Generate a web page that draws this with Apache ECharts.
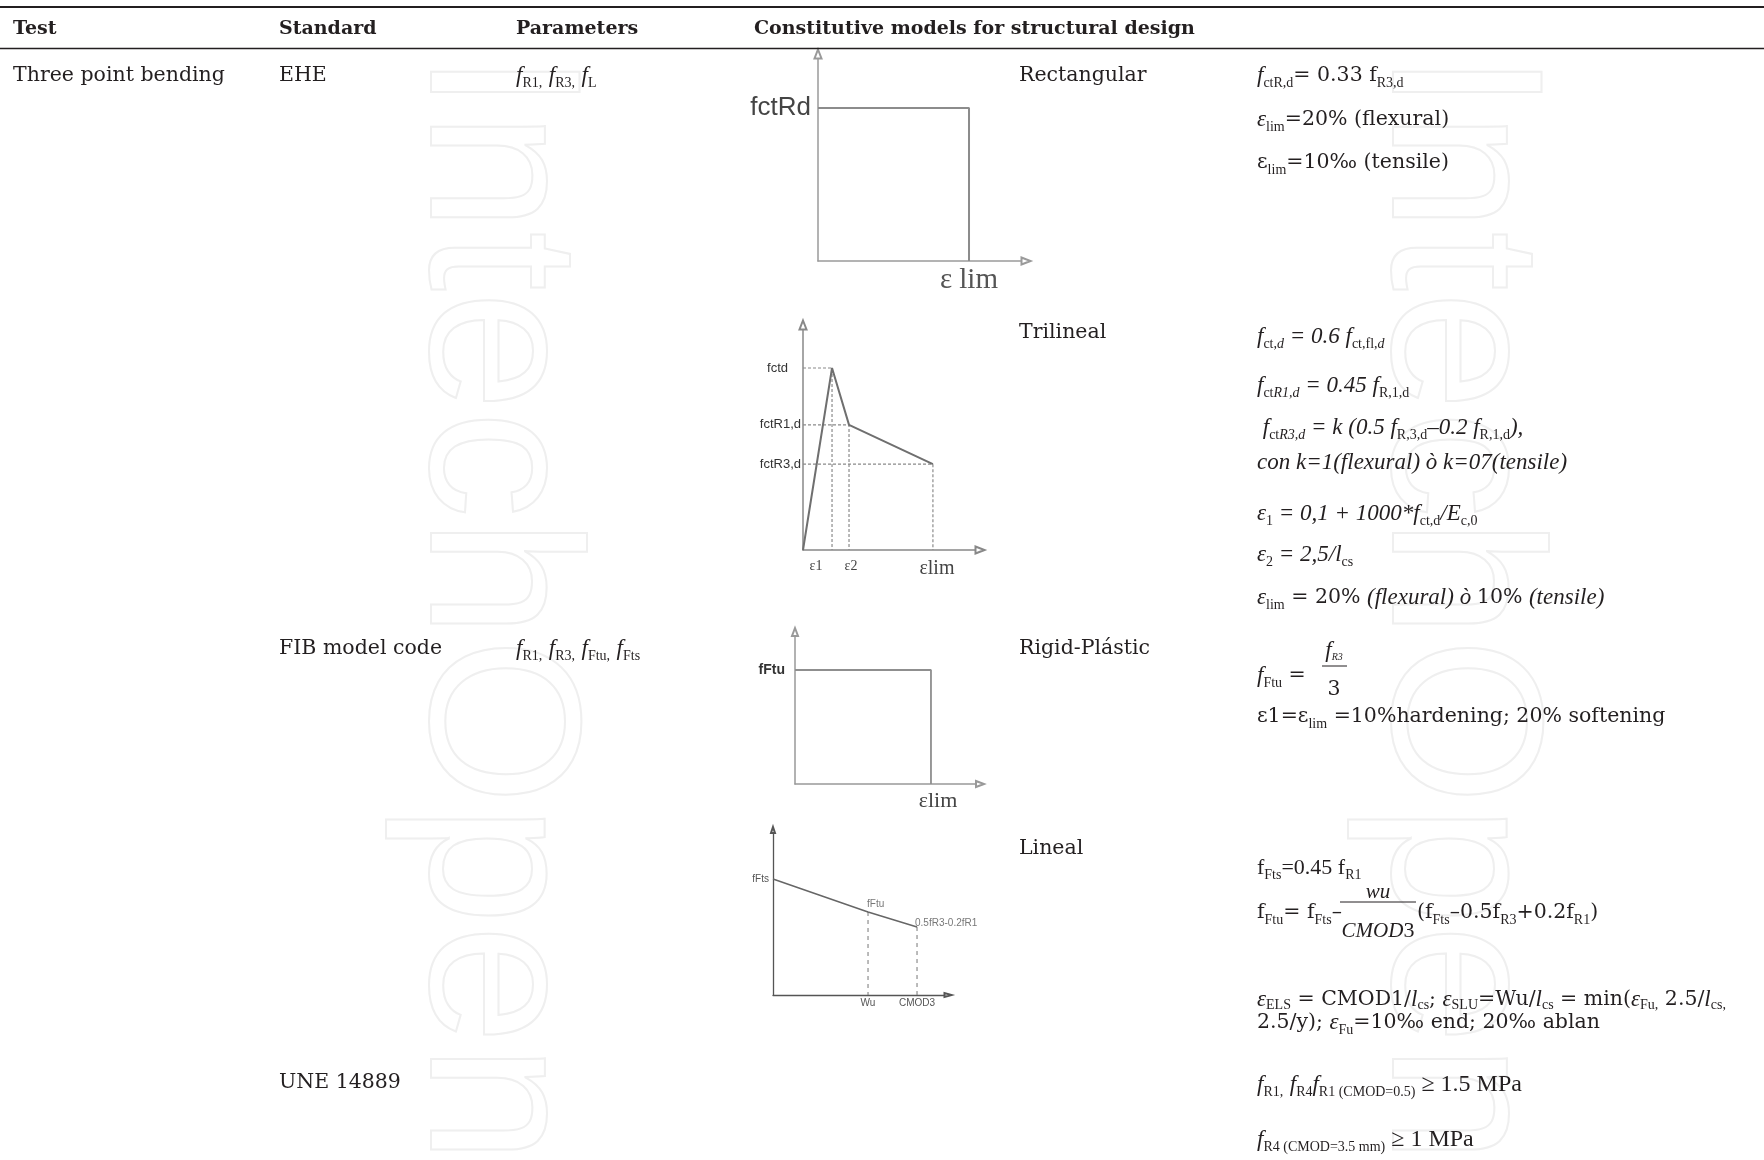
<!DOCTYPE html>
<html><head><meta charset="utf-8">
<script src="https://cdn.jsdelivr.net/npm/echarts@6.0.0/dist/echarts.min.js"></script>
<style>html,body{margin:0;padding:0;background:#fff;}#chart{width:1764px;height:1160px;}</style>
</head><body><div id="chart"></div>
<script>
// ---------- table text ----------
const headers = ['Test', 'Standard', 'Parameters', 'Constitutive models for structural design'];
const testNames = ['Three point bending'];
const standards = ['EHE', 'FIB model code', 'UNE 14889'];
const parameters = ['{i|f}{s|R1,} {i|f}{s|R3,} {i|f}{s|L}', '{i|f}{s|R1,} {i|f}{s|R3,} {i|f}{s|Ftu,} {i|f}{s|Fts}'];
const modelNames = ['Rectangular', 'Trilineal', 'Rigid-Plástic', 'Lineal'];
const rectFormulas = [
  '{i|f}{s|ctR,d}{n|= 0.33 f}{s|R3,d}',
  '{i|ε}{s|lim}{n|=20% (flexural)}',
  '{n|ε}{s|lim}{n|=10‰ (tensile)}'
];
const triFormulas = [
  '{i|f}{s|ct,}{si|d}{i| = 0.6 f}{s|ct,fl,}{si|d}',
  '{i|f}{s|ct}{si|R1,d}{i| = 0.45 f}{s|R,1,d}',
  '{i| f}{s|ct}{si|R3,d}{i| = k (0.5 f}{s|R,3,d}{i|–0.2 f}{s|R,1,d}{i|),}',
  '{i|con k=1(flexural) ò k=07(tensile)}',
  '{i|ε}{s|1}{i| = 0,1 + 1000*f}{s|ct,d}{i|/E}{s|c,0}',
  '{i|ε}{s|2}{i| = 2,5/l}{s|cs}',
  '{i|ε}{s|lim}{n| = 20% }{i|(flexural) ò }{n|10% }{i|(tensile)}'
];
const rigidFormula = ['{i|f}{s|Ftu}{n| =}', '{i|f}{fs|R3}', '{n|3}', '{n|ε1=ε}{s|lim}{n| =10%hardening; 20% softening}'];
const linealFormula = [
  '{d|f}{s|Fts}{d|=0.45 f}{s|R1}',
  '{n|f}{s|Ftu}{n|= f}{s|Fts}{n|–}', '{c|wu}', '{c|CMOD}{d|3}',
  '{n|(f}{s|Fts}{n|–0.5f}{s|R3}{n|+0.2f}{s|R1}{n|)}',
  '{i|ε}{t|ELS}{n| = CMOD1/}{i|l}{t|cs}{n|; }{i|ε}{t|SLU}{n|=Wu/}{i|l}{t|cs}{n| = min(}{i|ε}{t|Fu,}{n| 2.5/}{i|l}{t|cs,}',
  '{n|2.5/y); }{i|ε}{s|Fu}{n|=10‰ end; 20‰ ablan}'
];
const uneFormulas = [
  '{i|f}{s|R1,} {i|f}{s|R4}{i|f}{s|R1 (CMOD=0.5)}{m| ≥ 1.5 MPa}',
  '{i|f}{s|R4 (CMOD=3.5 mm)}{m| ≥ 1 MPa}'
];
const watermarkText = 'IntechOpen';

// ---------- diagram values (schematic, 0-100 scale) ----------
// 1. EHE rectangular
const rectX = [0, 72.6, 72.6];
const rectY = [73.9, 73.9, 0];
const rectYLab = ['fctRd'];
const rectXLab = ['εlim'];
// 2. EHE trilineal
const triX = [0, 16.4, 26.0, 73.4];
const triY = [0, 80.9, 55.6, 38.2];
const triYLab = ['fctd', 'fctR1,d', 'fctR3,d'];
const triXLab = ['ε1', 'ε2', 'εlim'];
// 3. FIB rigid-plastic
const rpX = [0, 73.5, 73.5];
const rpY = [75.0, 75.0, 0];
const rpYLab = ['fFtu'];
const rpXLab = ['εlim'];
// 4. FIB lineal
const linX = [0, 54.3, 82.3];
const linY = [70.3, 50.3, 41.2];
const linYLab = ['fFts'];
const linXLab = ['Wu', 'CMOD3'];
const linPtLab = ['fFtu', '0.5fR3-0.2fR1'];

// ---------- styling ----------
const SERIF = "'DejaVu Serif', 'Liberation Serif', serif";
const TIMES = "'Liberation Serif', serif";
const NARROW = "'Liberation Sans Narrow', 'Liberation Sans', Arial, sans-serif";
const SANS = "'Liberation Sans', Arial, sans-serif";
const INK = '#231f20';
const FS = 20.5;
const LH = 30;
const RICH = {
  n: {fontFamily: SERIF, fontSize: FS, lineHeight: LH, fill: INK},
  d: {fontFamily: TIMES, fontSize: 22, lineHeight: LH, fill: INK},
  i: {fontFamily: TIMES, fontSize: 23, fontStyle: 'italic', lineHeight: LH, fill: INK},
  c: {fontFamily: TIMES, fontSize: 21, fontStyle: 'italic', lineHeight: LH, fill: INK},
  m: {fontFamily: TIMES, fontSize: 24, lineHeight: LH, fill: INK},
  s: {fontFamily: TIMES, fontSize: 14, lineHeight: 14, padding: [14, 0, 0, 0], fill: INK},
  t: {fontFamily: TIMES, fontSize: 14, lineHeight: 14, padding: [11, 0, 0, 0], fill: INK},
  si: {fontFamily: TIMES, fontSize: 14, fontStyle: 'italic', lineHeight: 14, padding: [14, 0, 0, 0], fill: INK},
  fs: {fontFamily: TIMES, fontSize: 10, fontStyle: 'italic', lineHeight: 10, padding: [12, 0, 0, 0], fill: INK}
};
const DY = 2;
function txt(x, y, text, align, font) {
  return {type: 'text', x: x, y: y + DY, silent: true, z: 10,
    style: {text: text, rich: RICH, font: font || (FS + 'px ' + SERIF), fill: INK,
      align: align || 'left', verticalAlign: 'middle'}};
}
function hline(x1, x2, y, w) {
  return {type: 'line', silent: true, z: 10, shape: {x1: x1, y1: y, x2: x2, y2: y}, style: {stroke: INK, lineWidth: w}};
}
function watermark(cx, y0) {
  return {type: 'text', x: cx, y: y0, rotation: -Math.PI / 2, silent: true, z: -5,
    style: {text: watermarkText, font: "215px 'Liberation Sans', sans-serif", fill: 'none',
      stroke: '#efefef', lineWidth: 2, align: 'left', verticalAlign: 'middle'}};
}

const COL = {test: 13, std: 279, par: 516, con: 754, model: 1019, form: 1257};
const HB = 'bold 19px ' + SERIF;

const graphic = [
  watermark(490, 52), watermark(1452, 52),
  hline(0, 1764, 7, 2), hline(0, 1764, 48.5, 1.5),
  txt(COL.test, 27, headers[0], 'left', HB),
  txt(COL.std, 27, headers[1], 'left', HB),
  txt(COL.par, 27, headers[2], 'left', HB),
  txt(COL.con, 27, headers[3], 'left', HB),
  txt(COL.test, 74, testNames[0]),
  txt(COL.std, 74, standards[0]),
  txt(COL.par, 74, parameters[0]),
  txt(COL.model, 74, modelNames[0]),
  txt(COL.form, 74, rectFormulas[0]),
  txt(COL.form, 118, rectFormulas[1]),
  txt(COL.form, 161, rectFormulas[2]),
  txt(COL.model, 331, modelNames[1]),
  txt(COL.form, 335, triFormulas[0]),
  txt(COL.form, 384, triFormulas[1]),
  txt(COL.form, 426, triFormulas[2]),
  txt(COL.form, 461, triFormulas[3]),
  txt(COL.form, 512, triFormulas[4]),
  txt(COL.form, 553, triFormulas[5]),
  txt(COL.form, 596, triFormulas[6]),
  txt(COL.std, 647, standards[1]),
  txt(COL.par, 647, parameters[1]),
  txt(COL.model, 647, modelNames[2]),
  txt(COL.form, 674, rigidFormula[0]),
  txt(1334, 649, rigidFormula[1], 'center'),
  hline(1322, 1347, 666, 1),
  txt(1334, 688, rigidFormula[2], 'center'),
  txt(COL.form, 715, rigidFormula[3]),
  txt(COL.model, 847, modelNames[3]),
  txt(COL.form, 866, linealFormula[0]),
  txt(COL.form, 911, linealFormula[1]),
  txt(1378, 890, linealFormula[2], 'center'),
  hline(1340, 1416, 902, 1),
  txt(1378, 929, linealFormula[3], 'center'),
  txt(1417, 911, linealFormula[4]),
  txt(COL.form, 998, linealFormula[5]),
  txt(COL.form, 1021, linealFormula[6]),
  txt(COL.std, 1081, standards[2]),
  txt(COL.form, 1083, uneFormulas[0]),
  txt(COL.form, 1138, uneFormulas[1])
];

// ---------- diagrams ----------
const grids = [
  {left: 818, top: 54, width: 208, height: 207},
  {left: 803, top: 325, width: 177, height: 225},
  {left: 795, top: 632, width: 185, height: 152},
  {left: 773, top: 830, width: 175, height: 165}
];
grids.forEach(g => { g.outerBoundsMode = 'none'; g.containLabel = false; });

function mkAxis(gi, vals, labs, lab, line) {
  return {
    type: 'value', gridIndex: gi, min: 0, max: 100,
    splitLine: {show: false}, axisTick: {show: false},
    axisLine: {show: true, onZero: false, symbol: ['none', line.symbol || 'emptyTriangle'],
      symbolSize: line.size || [7, 9], lineStyle: {color: line.color, width: line.width}},
    axisLabel: Object.assign({
      show: true, customValues: vals, hideOverlap: false,
      formatter: function (v) {
        const k = vals.indexOf(v);
        if (k < 0) return '';
        const key = lab.keys ? lab.keys[k] : 'a';
        return lab.split ? '{' + key + '|' + labs[k].charAt(0) + '}{' + key + '2|' + labs[k].slice(1) + '}' : '{' + key + '|' + labs[k] + '}';
      }
    }, lab.cfg)
  };
}
const xAxis = [], yAxis = [];
// 1
yAxis.push(mkAxis(0, [rectY[0]], rectYLab,
  {cfg: {margin: 7, rich: {a: {fontFamily: NARROW, fontSize: 26, color: '#444'}}}},
  {color: '#9a9a9a', width: 1.5}));
xAxis.push(mkAxis(0, [rectX[1]], rectXLab,
  {split: true, cfg: {margin: 5, rich: {
    a: {fontFamily: TIMES, fontSize: 29, color: '#555', padding: [0, 7, 0, 0]},
    a2: {fontFamily: TIMES, fontSize: 29, color: '#555'}}}},
  {color: '#9a9a9a', width: 1.5}));
// 2
yAxis.push(mkAxis(1, triY.slice(1), triYLab,
  {keys: ['p', 'a', 'a'], cfg: {margin: 2, rich: {
    a: {fontFamily: NARROW, fontSize: 13, color: '#333'},
    p: {fontFamily: NARROW, fontSize: 13, color: '#333', padding: [0, 13, 0, 0]}}}},
  {color: '#888', width: 1.5}));
xAxis.push(mkAxis(1, triX.slice(1), triXLab,
  {keys: ['e', 'b', 'l'], cfg: {margin: 9, rich: {
    e: {fontFamily: TIMES, fontSize: 14, color: '#444', padding: [0, 32, 0, 0]},
    b: {fontFamily: TIMES, fontSize: 14, color: '#444', padding: [0, 0, 0, 4]},
    l: {fontFamily: TIMES, fontSize: 20, color: '#444', padding: [0, 0, 0, 8]}}}},
  {color: '#888', width: 1.5}));
// 3
yAxis.push(mkAxis(2, [rpY[0]], rpYLab,
  {cfg: {margin: 10, rich: {a: {fontFamily: SANS, fontWeight: 'bold', fontSize: 14, color: '#333'}}}},
  {color: '#999', width: 1.5, size: [6, 8]}));
xAxis.push(mkAxis(2, [rpX[1]], rpXLab,
  {cfg: {margin: 6, rich: {a: {fontFamily: TIMES, fontSize: 22, color: '#444', padding: [0, 0, 0, 14]}}}},
  {color: '#999', width: 1.5, size: [6, 8]}));
// 4
yAxis.push(mkAxis(3, [linY[0]], linYLab,
  {cfg: {margin: 4, rich: {a: {fontFamily: NARROW, fontSize: 10, color: '#555'}}}},
  {color: '#555', width: 1.3, size: [4, 6]}));
xAxis.push(mkAxis(3, linX.slice(1), linXLab,
  {cfg: {margin: 3, rich: {a: {fontFamily: NARROW, fontSize: 10, color: '#555'}}}},
  {color: '#555', width: 1.3, size: [4, 7]}));

const pts = (xs, ys) => xs.map((x, i) => [x, ys[i]]);
const series = [];
function line(gi, data, color, width, dash, z) {
  series.push({type: 'line', xAxisIndex: gi, yAxisIndex: gi, data: data, symbol: 'none', silent: true,
    z: z || 3, lineStyle: {color: color, width: width, type: dash || 'solid'}});
}
line(0, pts(rectX, rectY), '#8c8c8c', 2);
// trilineal guides
for (let k = 1; k < triX.length; k++) {
  line(1, [[0, triY[k]], [triX[k], triY[k]], [triX[k], 0]], '#8a8a8a', 1.2, [3, 2], 2);
}
line(1, pts(triX, triY), '#6f6f6f', 2);
line(2, pts(rpX, rpY), '#8f8f8f', 1.8);
for (let k = 1; k < linX.length; k++) {
  line(3, [[linX[k], linY[k]], [linX[k], 0]], '#777', 1, [4, 4], 2);
}
line(3, pts(linX, linY), '#666', 1.5);
const ptOffsets = [[-1, -8], [-2, -4]];
series.push({
  type: 'scatter', xAxisIndex: 3, yAxisIndex: 3, symbolSize: 0, silent: true,
  data: linPtLab.map((t, k) => ({value: [linX[k + 1], linY[k + 1]], name: t,
    label: {offset: ptOffsets[k]}})),
  label: {show: true, position: 'right', distance: 0, formatter: p => p.name,
    fontFamily: NARROW, fontSize: 10, color: '#555'}
});

const chart = echarts.init(document.getElementById('chart'), null, {renderer: 'canvas'});
chart.setOption({
  animation: false, backgroundColor: '#ffffff',
  grid: grids, xAxis: xAxis, yAxis: yAxis, series: series, graphic: graphic
});
</script></body></html>
